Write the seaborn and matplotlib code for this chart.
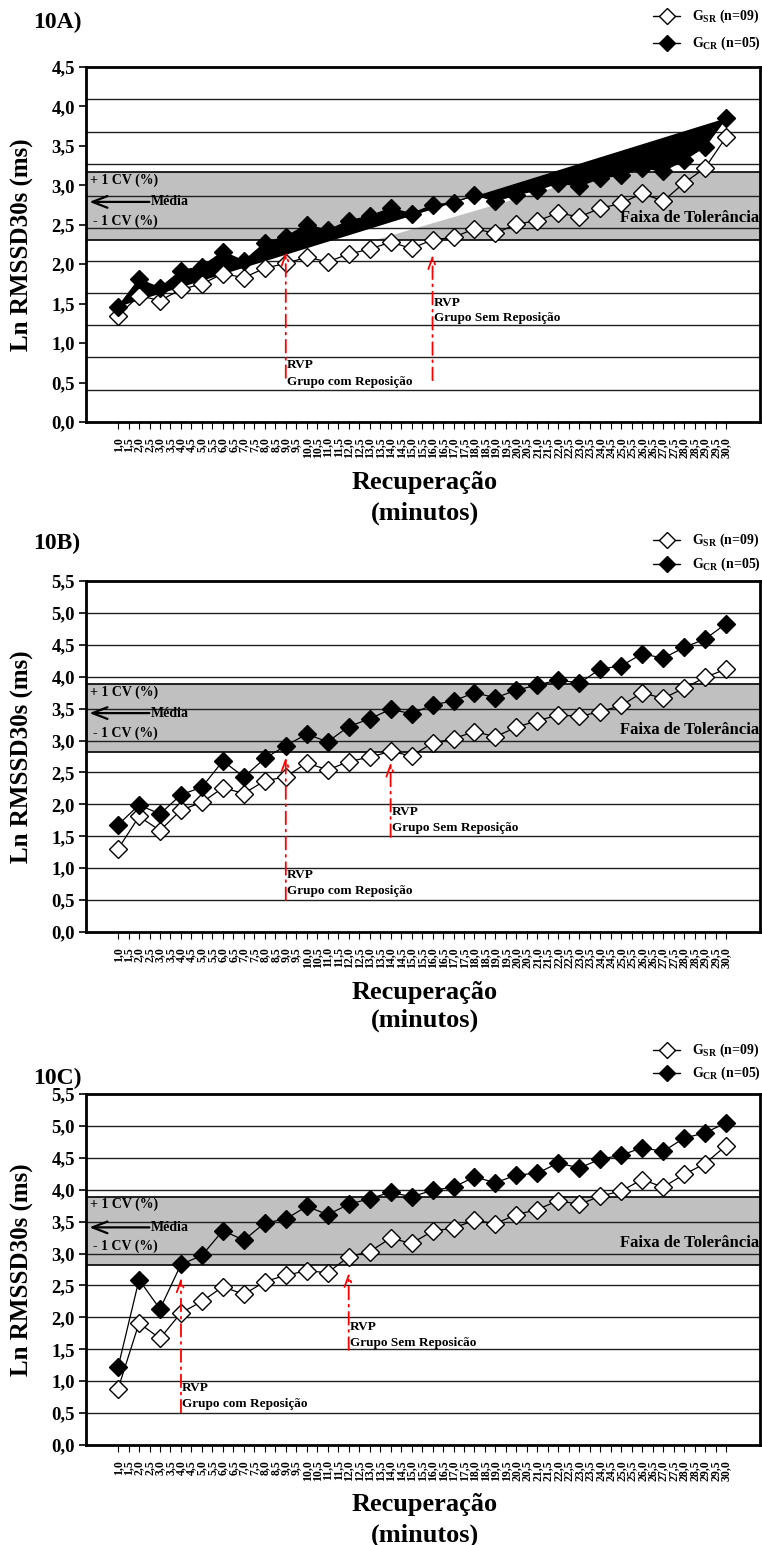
import numpy as np
import pandas as pd
import matplotlib
matplotlib.use("Agg")
import matplotlib.pyplot as plt
from matplotlib.lines import Line2D
import seaborn as sns

sns.set_theme(style="white")
plt.rcParams["font.family"] = ["Liberation Serif", "DejaVu Serif"]
plt.rcParams["font.weight"] = "bold"
plt.rcParams["mathtext.fontset"] = "custom"
plt.rcParams["mathtext.rm"] = "Liberation Serif:bold"
plt.rcParams["mathtext.bf"] = "Liberation Serif:bold"
for key in ["text.color", "axes.labelcolor", "xtick.color", "ytick.color"]:
    plt.rcParams[key] = "black"

# ---- data -------------------------------------------------------------
minutos = [1, 2, 3, 4, 5, 6, 7, 8, 9, 10, 11, 12, 13, 14, 15,
           16, 17, 18, 19, 20, 21, 22, 23, 24, 25, 26, 27, 28, 29, 30]
tick_minutos = [1.0 + 0.5 * i for i in range(59)]

# 10A
gsr_a = [1.35, 1.60, 1.54, 1.68, 1.75, 1.88, 1.83, 1.95, 2.01, 2.09,
         2.03, 2.13, 2.19, 2.28, 2.20, 2.31, 2.34, 2.45, 2.39, 2.51,
         2.55, 2.65, 2.60, 2.71, 2.77, 2.90, 2.80, 3.03, 3.22, 3.61]
gcr_a = [1.46, 1.81, 1.70, 1.92, 1.97, 2.16, 2.04, 2.27, 2.35, 2.50,
         2.43, 2.55, 2.61, 2.71, 2.64, 2.75, 2.78, 2.88, 2.80, 2.88,
         2.94, 3.03, 2.99, 3.09, 3.13, 3.22, 3.18, 3.32, 3.49, 3.85]
# 10B
gsr_b = [1.30, 1.81, 1.59, 1.91, 2.03, 2.26, 2.17, 2.37, 2.43, 2.65,
         2.54, 2.67, 2.74, 2.83, 2.76, 2.96, 3.03, 3.14, 3.06, 3.21,
         3.31, 3.40, 3.38, 3.45, 3.55, 3.75, 3.66, 3.82, 3.99, 4.12]
gcr_b = [1.68, 1.99, 1.85, 2.15, 2.27, 2.68, 2.43, 2.72, 2.92, 3.10,
         2.98, 3.22, 3.34, 3.49, 3.42, 3.56, 3.62, 3.75, 3.67, 3.79,
         3.87, 3.95, 3.90, 4.12, 4.17, 4.36, 4.29, 4.46, 4.59, 4.83]
# 10C
gsr_c = [0.88, 1.91, 1.67, 2.07, 2.25, 2.48, 2.36, 2.56, 2.66, 2.73,
         2.70, 2.95, 3.03, 3.24, 3.16, 3.35, 3.40, 3.52, 3.47, 3.61,
         3.69, 3.83, 3.77, 3.90, 3.98, 4.16, 4.04, 4.24, 4.41, 4.69]
gcr_c = [1.22, 2.59, 2.13, 2.83, 2.97, 3.36, 3.21, 3.48, 3.54, 3.74,
         3.61, 3.77, 3.86, 3.96, 3.89, 3.99, 4.04, 4.20, 4.11, 4.23,
         4.26, 4.42, 4.34, 4.48, 4.54, 4.66, 4.60, 4.81, 4.89, 5.05]

# tolerance band (-1 CV, +1 CV) and mean
faixa_a, media_a = (2.31, 3.17), 2.79
faixa_b, media_b = (2.82, 3.88), 3.43
faixa_c, media_c = (2.82, 3.89), 3.41

# RVP: minute where each group returned to baseline
rvp_cr = {"A": 9.0, "B": 9.0, "C": 4.0}
rvp_sr = {"A": 16.0, "B": 14.0, "C": 12.0}

legenda_sr = r"G$_{\mathrm{SR}}$ (n=09)"
legenda_cr = r"G$_{\mathrm{CR}}$ (n=05)"

# ---- figure -----------------------------------------------------------
W, H = 762, 1545
fig = plt.figure(figsize=(W / 100, H / 100), dpi=100)


def fy(px):
    return 1 - px / H


def fx(px):
    return px / W


def virgula(v):
    return f"{v:.1f}".replace(".", ",")


def painel(top, bottom, gsr, gcr, ymax, grid_vals, faixa, media,
           txt_pos, rvp_cfg, title, title_y, leg_y, xl_y, artefato=False):
    ax = fig.add_axes([fx(86), fy(bottom), fx(760) - fx(86), fy(top) - fy(bottom)])
    ax.set_xlim(-0.53, 31.62)
    ax.set_ylim(0, ymax)
    ax.set_facecolor("white")

    # tolerance band and horizontal grid
    ax.axhspan(faixa[0], faixa[1], facecolor="#c0c0c0", edgecolor="none", zorder=1)
    for g in grid_vals:
        ax.axhline(g, color="#202020", lw=1.0, zorder=2.5)
    for f in faixa:
        ax.axhline(f, color="black", lw=1.2, zorder=2.5)

    df = pd.DataFrame({"min": minutos, "GSR": gsr, "GCR": gcr})

    if artefato:
        ax.fill([minutos[0], minutos[-1], minutos[-1], minutos[0]],
                [gcr[0], gcr[-1], gsr[-1], gsr[0]], color="white", zorder=2, lw=0)
        ax.fill(minutos, gcr, color="black", zorder=3, lw=0)

    sns.lineplot(data=df, x="min", y="GSR", ax=ax, color="black", lw=0.9,
                 marker="D", markersize=9, markerfacecolor="white",
                 markeredgecolor="black", markeredgewidth=1.0, zorder=4,
                 legend=False)
    sns.lineplot(data=df, x="min", y="GCR", ax=ax, color="black", lw=0.9,
                 marker="D", markersize=9, markerfacecolor="black",
                 markeredgecolor="black", markeredgewidth=1.0, zorder=5,
                 legend=False)

    # axes styling
    yt = [0.5 * i for i in range(int(round(ymax / 0.5)) + 1)]
    ax.set_yticks(yt)
    ax.set_yticklabels([virgula(v) for v in yt], fontsize=13.5, fontweight="bold")
    ax.set_xticks(tick_minutos)
    ax.set_xticklabels([virgula(v) for v in tick_minutos], rotation=90,
                       fontsize=8.5, fontweight="bold")
    ax.tick_params(axis="y", direction="out", length=5, width=1.2, color="black",
                   left=True, pad=3)
    ax.tick_params(axis="x", direction="out", length=5, width=0.8, color="black",
                   bottom=True, pad=6)
    ax.set_xlabel("")
    ax.set_ylabel("")
    for s in ax.spines.values():
        s.set_color("black")
        s.set_linewidth(2.0)
        s.set_zorder(7)

    ytr = ax.get_yaxis_transform()
    ax.text(0.006, txt_pos["mais"], "+ 1 CV (%)", transform=ytr, fontsize=10,
            fontweight="bold", va="center", ha="left", zorder=6)
    ax.text(0.01, txt_pos["menos"], "- 1 CV (%)", transform=ytr, fontsize=10,
            fontweight="bold", va="center", ha="left", zorder=6)
    ax.annotate("", xy=(0.005, media), xytext=(0.094, media), xycoords=ytr,
                textcoords=ytr,
                arrowprops=dict(arrowstyle="->,head_length=0.9,head_width=0.35",
                                color="black", lw=1.6, shrinkA=0, shrinkB=0),
                zorder=6)
    ax.text(0.096, media, "Média", transform=ytr, fontsize=10, fontweight="bold",
            va="center", ha="left", zorder=6)
    ax.text(0.998, txt_pos["faixa"], "Faixa de Tolerância", transform=ytr,
            fontsize=12, fontweight="bold", va="center", ha="right", zorder=6)

    for (x, tip, base, t1, t2, lab) in rvp_cfg:
        ax.annotate("", xy=(x, tip), xytext=(x, base),
                    arrowprops=dict(arrowstyle="->,head_length=0.7,head_width=0.25",
                                    color="red", lw=1.3, linestyle=(0, (7, 3, 1, 3)),
                                    shrinkA=0, shrinkB=0),
                    zorder=6)
        ax.text(x + 0.06, t1, "RVP", fontsize=9.5, fontweight="bold",
                va="center", ha="left", zorder=6)
        ax.text(x + 0.06, t2, lab, fontsize=9.5, fontweight="bold",
                va="center", ha="left", zorder=6)

    # panel title, axis titles, legend
    fig.text(fx(33), fy(title_y), title, fontsize=17, fontweight="bold",
             ha="left", va="center")
    fig.text(fx(22), fy((top + bottom) / 2), "Ln RMSSD30s (ms)", rotation=90,
             fontsize=18, fontweight="bold", ha="center", va="center")
    fig.text(fx(425), fy(xl_y[0]), "Recuperação", fontsize=19, fontweight="bold",
             ha="center", va="center")
    fig.text(fx(425), fy(xl_y[1]), "(minutos)", fontsize=19, fontweight="bold",
             ha="center", va="center")

    for yy, lab, fc in [(leg_y[0], legenda_sr, "white"), (leg_y[1], legenda_cr, "black")]:
        fig.add_artist(Line2D([fx(653), fx(680)], [fy(yy), fy(yy)], color="black",
                              lw=1.0, transform=fig.transFigure))
        fig.add_artist(Line2D([fx(667)], [fy(yy)], marker="D", markersize=8.5,
                              markerfacecolor=fc, markeredgecolor="black",
                              lw=0, transform=fig.transFigure))
        fig.text(fx(692), fy(yy), lab, fontsize=10, fontweight="bold",
                 ha="left", va="center")
    return ax


grid_a = [4.5 / 11 * k for k in range(1, 11)]
grid_bc = [0.5 * k for k in range(1, 11)]

painel(67, 422, gsr_a, gcr_a, 4.5, grid_a, faixa_a, media_a,
       {"mais": 3.06, "menos": 2.54, "faixa": 2.59},
       [(rvp_cr["A"], 2.16, 0.56, 0.72, 0.51, "Grupo com Reposição"),
        (rvp_sr["A"], 2.12, 0.53, 1.51, 1.32, "Grupo Sem Reposição")],
       "10A)", 22, (16, 43), (483, 513), artefato=True)

painel(581, 932, gsr_b, gcr_b, 5.5, grid_bc, faixa_b, media_b,
       {"mais": 3.76, "menos": 3.12, "faixa": 3.17},
       [(rvp_cr["B"], 2.74, 0.50, 0.89, 0.64, "Grupo com Reposição"),
        (rvp_sr["B"], 2.66, 1.49, 1.88, 1.63, "Grupo Sem Reposição")],
       "10B)", 543, (540, 564), (992, 1020))

painel(1094, 1445, gsr_c, gcr_c, 5.5, grid_bc, faixa_c, media_c,
       {"mais": 3.77, "menos": 3.12, "faixa": 3.17},
       [(rvp_cr["C"], 2.62, 0.51, 0.90, 0.65, "Grupo com Reposição"),
        (rvp_sr["C"], 2.70, 1.49, 1.85, 1.60, "Grupo Sem Reposicão")],
       "10C)", 1078, (1050, 1073), (1505, 1535))

fig.savefig("out.png", dpi=100, facecolor="white")
